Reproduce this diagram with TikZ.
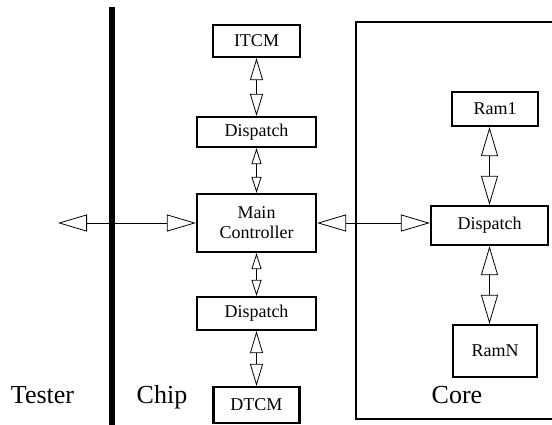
\documentclass[tikz,border=0pt]{standalone}
\usepackage{fontspec}
\setmainfont{Liberation Serif}
\usetikzlibrary{arrows.meta}
\tikzset{
  box/.style={draw, line width=2.2pt, rectangle, inner sep=0pt,
    font=\fontsize{18}{20}\selectfont, align=center},
  lbl/.style={anchor=base, inner sep=0pt, font=\fontsize{26}{28}\selectfont},
  conn/.style={line width=0.8pt},
  tipS/.style={conn, {Triangle[open,length=16pt,width=10pt]}-{Triangle[open,length=16pt,width=10pt]}},
  tipM/.style={conn, {Triangle[open,length=22pt,width=13pt]}-{Triangle[open,length=22pt,width=13pt]}},
  tipL/.style={conn, {Triangle[open,length=29pt,width=17pt]}-{Triangle[open,length=29pt,width=17pt]}},
}
\begin{document}
\begin{tikzpicture}[x=1pt,y=-1pt]
\useasboundingbox (0,0) rectangle (552,424);
% chip boundary
\coordinate (bt) at (112,7);
\coordinate (bb) at (112,430);
\draw[line width=6pt] (bt) -- (bb);
% core container
\node[draw, line width=2.2pt, minimum width=210pt, minimum height=397pt, inner sep=0pt] (core) at (461,220.5) {};
% chip column
\node[box, minimum width=87pt, minimum height=32pt] (itcm) at (256.5,41) {ITCM};
\node[box, minimum width=119pt, minimum height=30pt] (disp1) at (256.5,132) {Dispatch};
\node[box, minimum width=119pt, minimum height=58pt] (main) at (256.5,223) {Main\\Controller};
\node[box, minimum width=119pt, minimum height=33pt] (disp2) at (256.5,313.5) {Dispatch};
\node[box, minimum width=86pt, minimum height=36pt] (dtcm) at (256.5,405) {DTCM};
% core column
\node[box, minimum width=86pt, minimum height=34pt] (ram1) at (495,109) {Ram1};
\node[box, minimum width=117pt, minimum height=39pt] (cdisp) at (489.5,225.5) {Dispatch};
\node[box, minimum width=84pt, minimum height=52pt] (ramn) at (495,351) {RamN};
% labels
\node[lbl] (tester) at (42.5,403) {Tester};
\node[lbl] (chip) at (162,403) {Chip};
\node[lbl] (corel) at (457,403) {Core};
% connectors
\coordinate (ext) at (58,223);
\draw[tipM] (itcm.south) -- (disp1.north);
\draw[tipS] (disp1.south) -- (main.north);
\draw[tipS] (main.south) -- (disp2.north);
\draw[tipM] (disp2.south) -- (dtcm.north);
\draw[tipL] (ext) -- (main.west);
\draw[tipL] (main.east) -- (main.east -| cdisp.west);
\draw[tipL] (cdisp.north) -- (cdisp.north |- ram1.south);
\draw[tipL] (cdisp.south) -- (cdisp.south |- ramn.north);
\end{tikzpicture}
\end{document}
